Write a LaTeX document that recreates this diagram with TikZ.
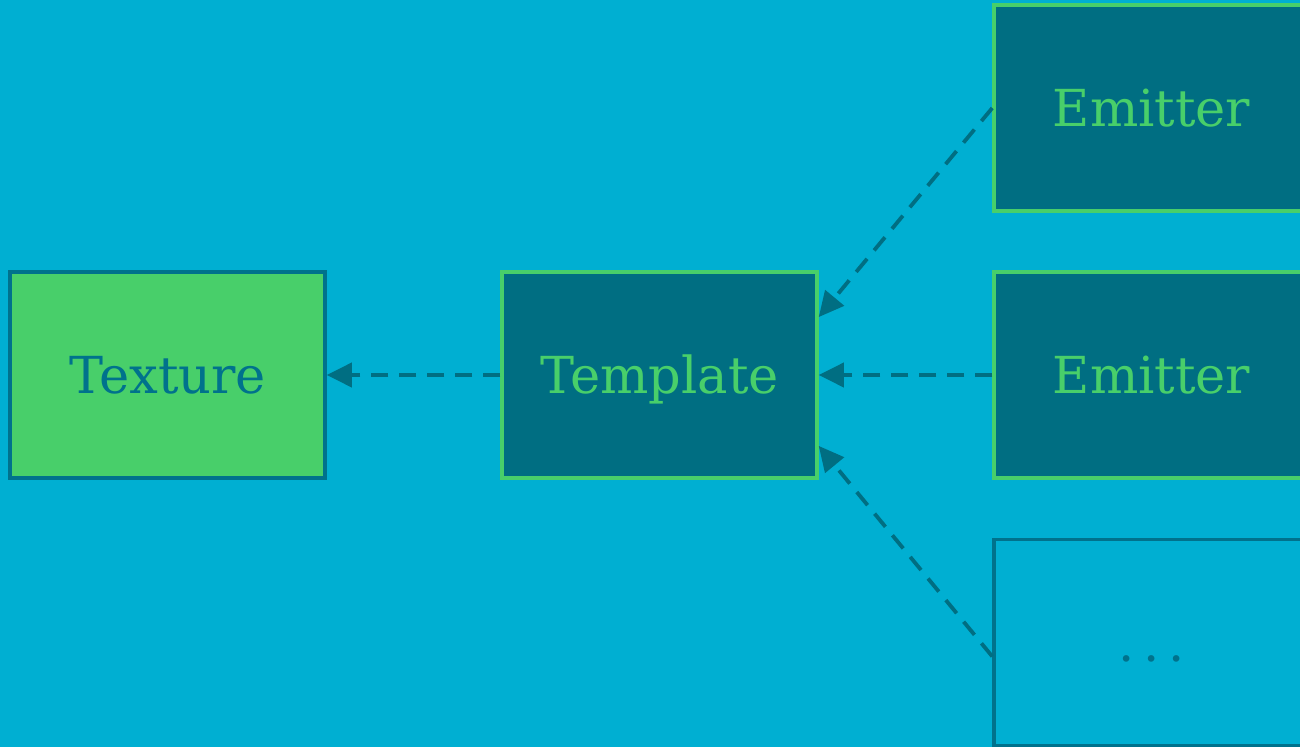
\documentclass[tikz,border=0pt]{standalone}
\usepackage{fontspec}
\setmainfont{DejaVu Serif}
\usetikzlibrary{arrows.meta}
\definecolor{bg}{HTML}{00AFD2}
\definecolor{dteal}{HTML}{006E82}
\definecolor{bteal}{HTML}{00728C}
\definecolor{lgreen}{HTML}{48CF6A}
\tikzset{
  box/.style={minimum width=315pt, minimum height=206pt, inner sep=0pt, line width=3.5pt, font=\fontsize{51}{54}\selectfont, text height=37pt, text depth=0pt},
  darkbox/.style={box, draw=lgreen, fill=dteal, text=lgreen},
  texbox/.style={box, draw=bteal, fill=lgreen, text=bteal},
  emptybox/.style={box, draw=bteal, fill=bg, text=bteal},
  link/.style={draw=dteal, line width=3.8pt, dash pattern=on 17pt off 11pt, -{Triangle[length=25pt,width=24pt]}}
}
\begin{document}
\begin{tikzpicture}[x=1pt,y=-1pt]
\fill[bg] (0,0) rectangle (1300,747);
\useasboundingbox (0,0) rectangle (1300,747);
\begin{scope}
\clip (0,0) rectangle (1300,747);
\node[texbox] (tex) at (167.5,375) {Texture};
\node[darkbox] (tmpl) at (659.5,375) {Template};
\node[darkbox] (em1) at (1151.5,108) {Emitter};
\node[darkbox] (em2) at (1151.5,375) {Emitter};
\node[emptybox] (dots) at (1151.5,642.5) {.\hspace{9pt}.\hspace{9pt}.};
\end{scope}
\draw[link] (tmpl.west) -- (tex.east);
\draw[link] (em1.west) -- (tmpl.20.9);
\draw[link] (em2.west) -- (tmpl.east);
\draw[link] (dots.185) -- (tmpl.-24.6);
\end{tikzpicture}
\end{document}
